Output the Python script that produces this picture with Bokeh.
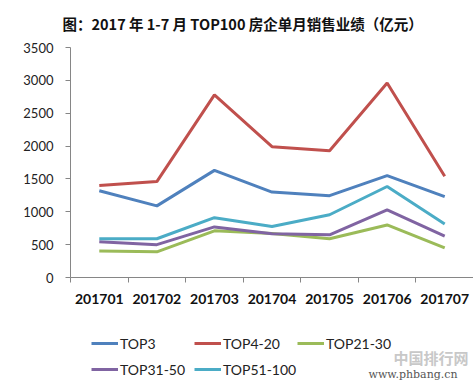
from bokeh.plotting import figure
from bokeh.layouts import column
from bokeh.models import (Range1d, FixedTicker, Legend, LegendItem, Title, Label)
from bokeh.embed import file_html
from bokeh.resources import INLINE

months = ["201701", "201702", "201703", "201704", "201705", "201706", "201707"]
top3 = [1320, 1090, 1630, 1300, 1245, 1550, 1230]
top4_20 = [1400, 1460, 2780, 1990, 1930, 2960, 1540]
top21_30 = [405, 390, 710, 670, 590, 800, 450]
top31_50 = [545, 500, 770, 665, 650, 1030, 630]
top51_100 = [590, 590, 910, 775, 955, 1385, 815]
series = [
    ("TOP3", top3, "#4F81BD"),
    ("TOP4-20", top4_20, "#C0504D"),
    ("TOP21-30", top21_30, "#9BBB59"),
    ("TOP31-50", top31_50, "#8064A2"),
    ("TOP51-100", top51_100, "#4BACC6"),
]
y_ticks = [0, 500, 1000, 1500, 2000, 2500, 3000, 3500]
title_text = "图：2017 年 1-7 月 TOP100 房企单月销售业绩（亿元）"

xs = [i + 0.5 for i in range(len(months))]

p = figure(width=473, height=320, output_backend="svg", toolbar_location=None,
           x_range=Range1d(0, len(months)), y_range=Range1d(0, 3500),
           min_border_left=70, min_border_right=0, min_border_top=47,
           min_border_bottom=43)
p.title = None
p.outline_line_color = None
p.xgrid.visible = False
p.ygrid.visible = False
p.background_fill_color = "white"
p.border_fill_color = "white"

spacer = Title(text=" ", text_font_size="7px", standoff=0)
p.add_layout(spacer, "above")
t = Title(text=title_text, align="left", offset=-8,
          text_font="Noto Sans CJK SC", text_font_size="14.5px",
          text_font_style="bold", text_color="#111111")
p.add_layout(t, "above")

for name, vals, color in series:
    p.line(xs, vals, line_color=color, line_width=3)

axis_color = "#868686"
p.yaxis.ticker = FixedTicker(ticks=y_ticks)
p.yaxis.axis_line_color = axis_color
p.yaxis.major_tick_line_color = axis_color
p.yaxis.major_tick_out = 5
p.yaxis.major_tick_in = 0
p.yaxis.minor_tick_line_color = None
p.yaxis.major_label_text_font = "Lato"
p.yaxis.major_label_text_font_size = "13px"
p.yaxis.major_label_text_color = "#222222"
p.yaxis.major_label_standoff = 12

p.xaxis.ticker = FixedTicker(ticks=xs, minor_ticks=list(range(len(months) + 1)))
p.xaxis.major_label_overrides = {x: m for x, m in zip(xs, months)}
p.xaxis.axis_line_color = axis_color
p.xaxis.major_tick_line_color = None
p.xaxis.major_tick_out = 0
p.xaxis.major_tick_in = 0
p.xaxis.minor_tick_line_color = axis_color
p.xaxis.minor_tick_out = 5
p.xaxis.minor_tick_in = 0
p.xaxis.major_label_text_font = "Lato"
p.xaxis.major_label_text_font_size = "14px"
p.xaxis.major_label_text_font_style = "bold"
p.xaxis.major_label_text_color = "#111111"
p.xaxis.major_label_standoff = 11

# legend figure below (its frame is aligned with the main frame)
p2 = figure(width=473, height=65, output_backend="svg", toolbar_location=None,
            x_range=Range1d(-100, -99), y_range=Range1d(-100, -99),
            min_border=0, min_border_left=0, min_border_right=0,
            min_border_top=0, min_border_bottom=0)
p2.axis.visible = False
p2.xgrid.visible = False
p2.ygrid.visible = False
p2.outline_line_color = None
p2.background_fill_color = "white"
p2.border_fill_color = "white"

items = []
for name, vals, color in series:
    r = p2.line(xs, vals, line_color=color, line_width=3)
    items.append(LegendItem(label=name, renderers=[r]))

common = dict(orientation="horizontal", glyph_width=27, glyph_height=20,
              label_height=20, label_width=70, label_standoff=2, spacing=4,
              padding=0, margin=0, border_line_color=None,
              background_fill_alpha=0, label_text_font="Lato",
              label_text_font_size="14px", label_text_color="#222222")
leg1 = Legend(items=items[:3], location=(21, 32), **common)
leg2 = Legend(items=items[3:], location=(21, 6), **common)
p2.add_layout(leg1, "center")
p2.add_layout(leg2, "center")

wm1 = Label(x=323, y=18, x_units="screen", y_units="screen", text="中国排行网",
            text_font="Noto Sans CJK SC", text_font_size="15px",
            text_color="#c8c8c8", text_font_style="bold")
wm2 = Label(x=298, y=5, x_units="screen", y_units="screen", text="www.phbang.cn",
            text_font="DejaVu Serif", text_font_size="11px", text_color="#555555")
p2.add_layout(wm1)
p2.add_layout(wm2)

layout = column(p, p2, spacing=0)
open("out.html", "w").write(file_html(layout, INLINE))
